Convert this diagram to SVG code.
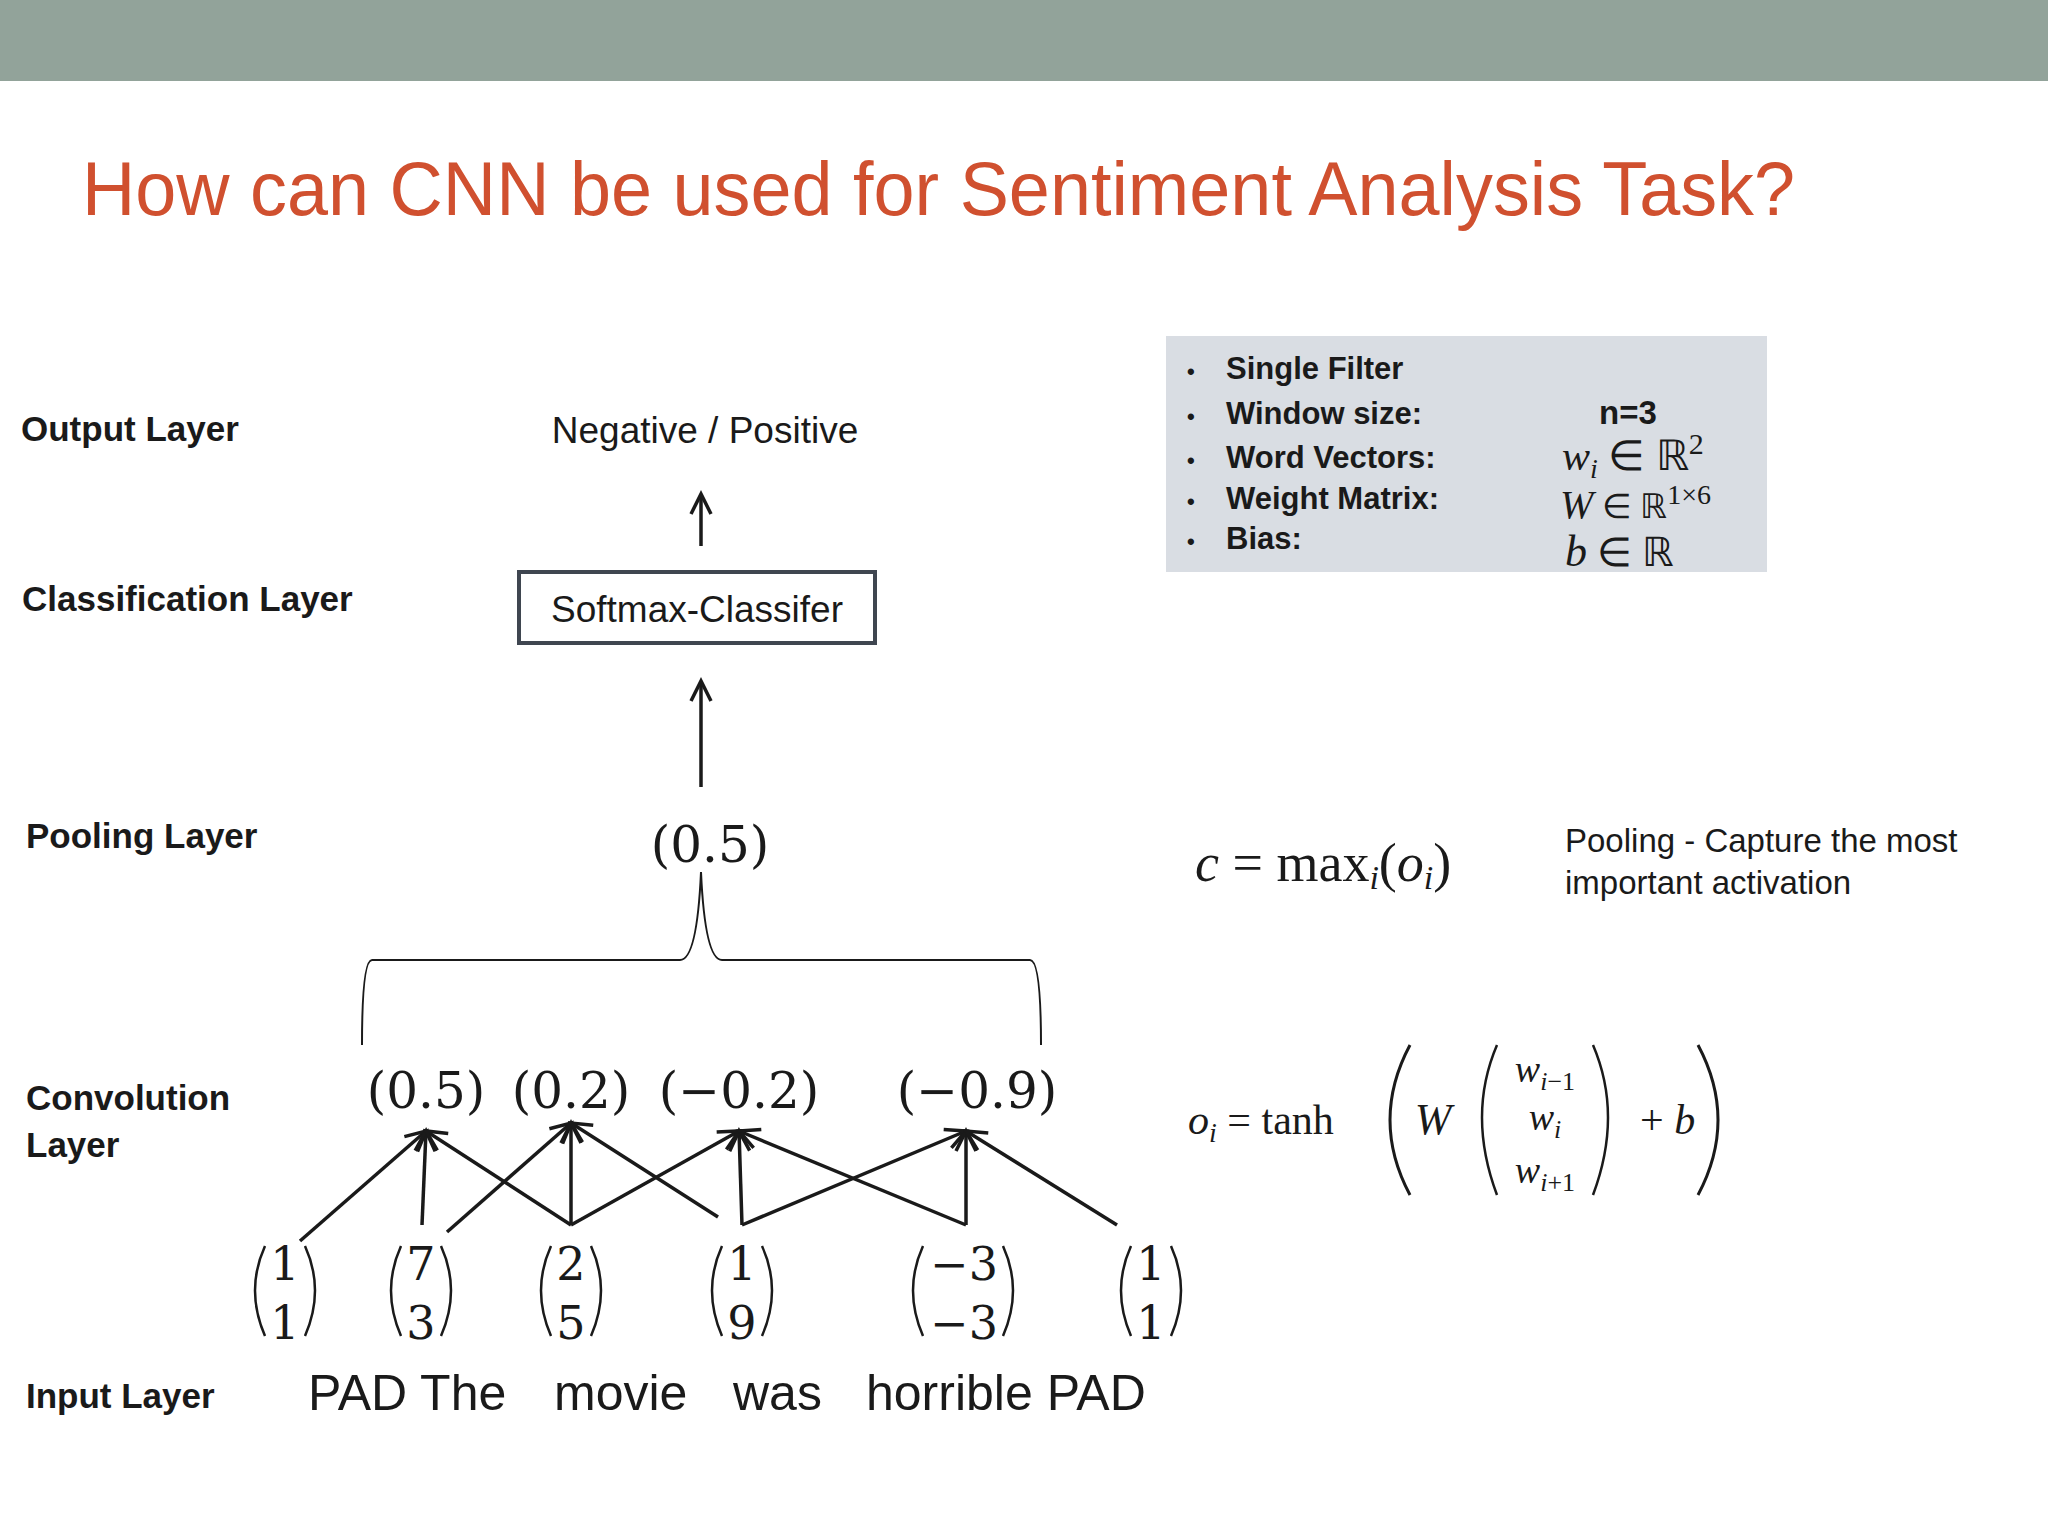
<svg xmlns="http://www.w3.org/2000/svg" width="2048" height="1536" viewBox="0 0 2048 1536">
<style>
.lbl{font-family:"Liberation Sans",Arial,sans-serif;font-weight:bold;font-size:35px;fill:#1a1a1a}
.sans{font-family:"Liberation Sans",Arial,sans-serif;fill:#1a1a1a}
.m{font-family:"DejaVu Serif","Liberation Serif",serif;fill:#1a1a1a}
.mi{font-family:"Liberation Serif",serif;font-style:italic;fill:#1a1a1a}
.ln{stroke:#1a1a1a;stroke-width:3.5;fill:none}
.par{stroke:#1a1a1a;stroke-width:2.5;fill:none}
</style>
<defs>
<marker id="ah" markerWidth="10" markerHeight="10" refX="8" refY="5" orient="auto" markerUnits="userSpaceOnUse" viewBox="0 0 10 10"><path d="M0,0 L9,5 L0,10" fill="none" stroke="#1a1a1a" stroke-width="2"/></marker>
<marker id="ah2" markerWidth="28" markerHeight="28" refX="24" refY="14" orient="auto" markerUnits="userSpaceOnUse"><path d="M4,4 L24,14 L4,24" fill="none" stroke="#1a1a1a" stroke-width="3.5"/></marker>
</defs>
<rect width="2048" height="1536" fill="#fff"/>
<rect width="2048" height="81" fill="#92a39a"/>
<text x="82" y="215" font-family="Liberation Sans,Arial,sans-serif" font-size="76" fill="#d0502f" textLength="1713" lengthAdjust="spacingAndGlyphs">How can CNN be used for Sentiment Analysis Task?</text>

<g id="labels">
<text class="lbl" x="21" y="441">Output Layer</text>
<text class="lbl" x="22" y="611">Classification Layer</text>
<text class="lbl" x="26" y="848">Pooling Layer</text>
<text class="lbl" x="26" y="1110">Convolution</text>
<text class="lbl" x="26" y="1157">Layer</text>
<text class="lbl" x="26" y="1408">Input Layer</text>
</g>

<g id="output"><text class="sans" x="705" y="443" font-size="37" text-anchor="middle">Negative / Positive</text></g>
<g id="softmax">
<rect x="519" y="572" width="356" height="71" fill="#fff" stroke="#3f4650" stroke-width="4"/>
<text class="sans" x="697" y="622" font-size="37" text-anchor="middle">Softmax-Classifer</text>
</g>
<g id="pool"><text class="m" x="710" y="862" font-size="50" text-anchor="middle">(0.5)</text></g>
<g id="conv">
<text class="m" x="426" y="1108" font-size="50" text-anchor="middle">(0.5)</text>
<text class="m" x="571" y="1108" font-size="50" text-anchor="middle">(0.2)</text>
<text class="m" x="739" y="1108" font-size="50" text-anchor="middle">(−0.2)</text>
<text class="m" x="977" y="1108" font-size="50" text-anchor="middle">(−0.9)</text>
</g>

<g id="inputs" class="m" font-size="46" text-anchor="middle">
<g id="v1"><text x="285" y="1280">1</text><text x="285" y="1339">1</text><path class="par" d="M265,1246 Q245,1290 265,1336 M305,1246 Q325,1290 305,1336"/></g>
<g id="v2"><text x="421" y="1280">7</text><text x="421" y="1339">3</text><path class="par" d="M401,1246 Q381,1290 401,1336 M441,1246 Q461,1290 441,1336"/></g>
<g id="v3"><text x="571" y="1280">2</text><text x="571" y="1339">5</text><path class="par" d="M551,1246 Q531,1290 551,1336 M591,1246 Q611,1290 591,1336"/></g>
<g id="v4"><text x="742" y="1280">1</text><text x="742" y="1339">9</text><path class="par" d="M722,1246 Q702,1290 722,1336 M762,1246 Q782,1290 762,1336"/></g>
<g id="v5"><text x="964" y="1280">−3</text><text x="964" y="1339">−3</text><path class="par" d="M923,1246 Q903,1290 923,1336 M1003,1246 Q1023,1290 1003,1336"/></g>
<g id="v6"><text x="1151" y="1280">1</text><text x="1151" y="1339">1</text><path class="par" d="M1131,1246 Q1111,1290 1131,1336 M1171,1246 Q1191,1290 1171,1336"/></g>
</g>
<g id="words" class="sans" font-size="50">
<text x="308" y="1410">PAD The</text>
<text x="554" y="1410">movie</text>
<text x="733" y="1410">was</text>
<text x="866" y="1410">horrible PAD</text>
</g>

<g id="connectors">
<line class="ln" x1="701" y1="546" x2="701" y2="494" marker-end="url(#ah2)"/>
<line class="ln" x1="701" y1="787" x2="701" y2="681" marker-end="url(#ah2)"/>
<path d="M362,1045 Q362,960 372,960 L680,960 Q697,960 701,872 Q705,960 722,960 L1030,960 Q1041,960 1041,1045" fill="none" stroke="#1a1a1a" stroke-width="2"/>
<g stroke="#1a1a1a" stroke-width="3.5" marker-end="url(#ah2)">
<line x1="300" y1="1241" x2="426" y2="1131"/>
<line x1="422" y1="1225" x2="426" y2="1131"/>
<line x1="571" y1="1225" x2="426" y2="1131"/>
<line x1="447" y1="1232" x2="571" y2="1123"/>
<line x1="571" y1="1225" x2="571" y2="1123"/>
<line x1="718" y1="1217" x2="571" y2="1123"/>
<line x1="571" y1="1225" x2="739" y2="1131"/>
<line x1="742" y1="1225" x2="739" y2="1131"/>
<line x1="966" y1="1225" x2="739" y2="1131"/>
<line x1="742" y1="1225" x2="966" y2="1131"/>
<line x1="966" y1="1225" x2="966" y2="1131"/>
<line x1="1117" y1="1225" x2="966" y2="1131"/>
</g>
</g>

<g id="infobox">
<rect x="1166" y="336" width="601" height="236" fill="#d9dde3"/>
<g class="lbl" font-size="31">
<text x="1187" y="379" font-size="22">•</text><text x="1226" y="379" font-size="31">Single Filter</text>
<text x="1187" y="424" font-size="22">•</text><text x="1226" y="424" font-size="31">Window size:</text>
<text x="1187" y="468" font-size="22">•</text><text x="1226" y="468" font-size="31">Word Vectors:</text>
<text x="1187" y="509" font-size="22">•</text><text x="1226" y="509" font-size="31">Weight Matrix:</text>
<text x="1187" y="549" font-size="22">•</text><text x="1226" y="549" font-size="31">Bias:</text>
<text x="1599" y="424" font-size="33">n=3</text>
</g>
<text class="mi" x="1562" y="470" font-size="42">w<tspan font-size="28" dy="8">i</tspan><tspan font-style="normal" dy="-8"> ∈ ℝ</tspan><tspan font-style="normal" font-size="30" dy="-16">2</tspan></text>
<text class="mi" x="1560" y="518" font-size="40">W<tspan font-style="normal" font-size="34"> ∈ ℝ</tspan><tspan font-style="normal" font-size="28" dy="-14">1×6</tspan></text>
<text class="mi" x="1565" y="566" font-size="44">b<tspan font-style="normal" font-size="40"> ∈ ℝ</tspan></text>
</g>

<g id="poolformula">
<text class="mi" x="1195" y="881" font-size="54">c<tspan font-style="normal"> = max</tspan><tspan font-size="34" dy="8">i</tspan><tspan font-style="normal" dy="-8">(</tspan>o<tspan font-size="34" dy="8">i</tspan><tspan font-style="normal" dy="-8">)</tspan></text>
<text class="sans" x="1565" y="852" font-size="33">Pooling -  Capture the most</text>
<text class="sans" x="1565" y="894" font-size="33">important activation</text>
</g>

<g id="convformula">
<text class="mi" x="1188" y="1134" font-size="42">o<tspan font-size="28" dy="8">i</tspan><tspan font-style="normal" dy="-8"> = tanh</tspan></text>
<path d="M1410,1045 Q1370,1120 1410,1195 M1698,1045 Q1738,1120 1698,1195" stroke="#1a1a1a" stroke-width="3" fill="none"/>
<text class="mi" x="1433" y="1134" font-size="44" text-anchor="middle">W</text>
<path d="M1497,1045 Q1467,1115 1497,1195 M1593,1045 Q1623,1115 1593,1195" stroke="#1a1a1a" stroke-width="2.5" fill="none"/>
<text class="mi" x="1545" y="1082" font-size="38" text-anchor="middle">w<tspan font-size="26" dy="8">i<tspan font-style="normal">−1</tspan></tspan></text>
<text class="mi" x="1545" y="1130" font-size="38" text-anchor="middle">w<tspan font-size="26" dy="8">i</tspan></text>
<text class="mi" x="1545" y="1183" font-size="38" text-anchor="middle">w<tspan font-size="26" dy="8">i<tspan font-style="normal">+1</tspan></tspan></text>
<text class="mi" x="1640" y="1134" font-size="42"><tspan font-style="normal">+ </tspan>b</text>
</g>
</svg>
